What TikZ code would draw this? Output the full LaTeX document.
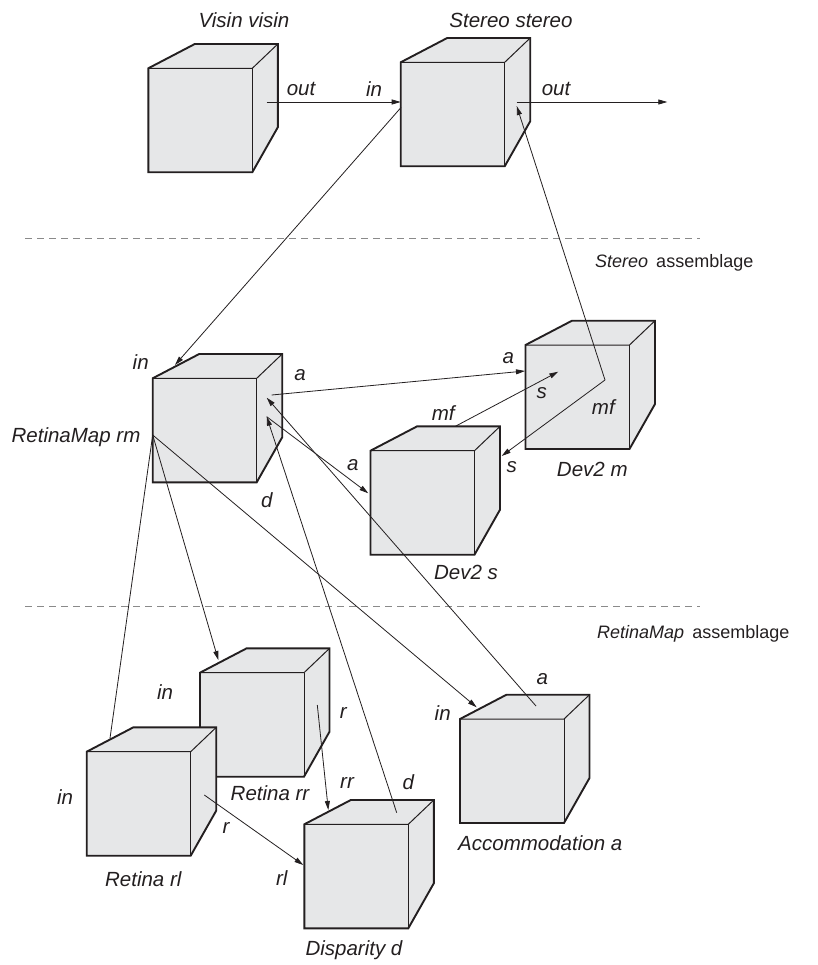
\documentclass[tikz,border=0pt]{standalone}
\usepackage{fontspec}
\setmainfont{Liberation Sans}
\usetikzlibrary{arrows.meta}
\definecolor{ink}{HTML}{231F20}
\definecolor{cubegrey}{HTML}{E6E7E8}
\definecolor{sepgrey}{HTML}{8A8A8A}
\tikzset{
  cubeface/.style={fill=cubegrey},
  cubeedge/.style={draw=ink, line width=1.9pt, line join=miter},
  cubeinner/.style={draw=ink, line width=1pt},
  wire/.style={draw=ink, line width=0.8pt},
  arr/.style={wire, -{Triangle[length=9pt,width=5pt]}},
  lbl/.style={text=ink, font=\fontsize{20.5}{24}\selectfont\itshape, inner sep=0pt},
  asm/.style={text=ink, font=\fontsize{18}{22}\selectfont, inner sep=0pt, anchor=west},
  sepline/.style={draw=sepgrey, line width=0.9pt, dash pattern=on 7pt off 5pt},
}
% A component box drawn as a shaded cube; #1 name, (#2,#3) front top-left corner
\newcommand{\cubeat}[3]{%
  \coordinate (#1) at (#2,#3);
  \fill[cubeface] (#1) -- ++(46.5,-24.3) -- ++(83,0) -- ++(0,83.3) -- ++(-25.5,45) -- ++(-104,0) -- cycle;
  \draw[cubeinner] (#1) -- ++(104,0) coordinate (#1tr) -- ++(25.5,-24.3);
  \draw[cubeinner] (#1tr) -- ++(0,104);
  \draw[cubeedge] (#1) -- ++(46.5,-24.3) -- ++(83,0) -- ++(0,83.3) -- ++(-25.5,45) -- ++(-104,0) -- cycle;
}
\begin{document}
\begin{tikzpicture}[x=1pt,y=-1pt]
\useasboundingbox (0,0) rectangle (817,965);

% assemblage separators
\coordinate (sepAa) at (25,238);  \coordinate (sepAb) at (700,238);
\coordinate (sepBa) at (25,606);  \coordinate (sepBb) at (700,606);
\draw[sepline] (sepAa) -- (sepAb);
\draw[sepline] (sepBa) -- (sepBb);

% components
\cubeat{visin}{148.3}{68.3}
\cubeat{stereo}{400.7}{62.3}
\cubeat{rm}{152.7}{378.3}
\cubeat{devm}{525.5}{345}
\cubeat{devs}{370.5}{450.7}
\cubeat{rr}{200}{672.7}
\cubeat{rl}{86.7}{751.7}
\cubeat{disp}{304.3}{824.3}
\cubeat{acc}{460}{719}

% ports
\coordinate (visinOut) at (266.7,102);
\coordinate (stereoIn) at (400.7,102);
\coordinate (stereoIn2) at (401,107.5);
\coordinate (stereoOut) at (516.7,102);
\coordinate (stereoOutTip) at (516.7,106);
\coordinate (outEnd) at (667.3,102);
\coordinate (rmIn) at (175,365);
\coordinate (rmA) at (271.7,395);
\coordinate (rmATip) at (266.7,397.7);
\coordinate (rmD) at (266.7,416.7);
\coordinate (rmInner) at (152.7,435);
\coordinate (devmA) at (525,371);
\coordinate (devmS) at (558.3,371.7);
\coordinate (devmMf) at (605,380);
\coordinate (devsA) at (368.3,493.3);
\coordinate (devsS) at (501.7,456);
\coordinate (devsMf) at (455,426.5);
\coordinate (rrIn) at (218.3,660);
\coordinate (rrR) at (317.3,705);
\coordinate (rlIn) at (110,738.3);
\coordinate (rlR) at (204.3,795);
\coordinate (dispRr) at (328.3,810);
\coordinate (dispRl) at (303.3,865);
\coordinate (dispD) at (396.7,812.7);
\coordinate (accIn) at (476.7,707.3);
\coordinate (accA) at (536,706);

% connectors
\draw[arr] (visinOut) -- (stereoIn);
\draw[arr] (stereoOut) -- (outEnd);
\draw[arr] (stereoIn2) -- (rmIn);
\draw[arr] (devmMf) -- (stereoOutTip);
\draw[arr] (devmMf) -- (devsS);
\draw[arr] (devsMf) -- (devmS);
\draw[arr] (rmA) -- (devmA);
\draw[arr] (rmD) -- (devsA);
\draw[arr] (accA) -- (rmATip);
\draw[arr] (dispD) -- (rmD);
\draw[wire] (rmInner) -- (rlIn);
\draw[arr] (rmInner) -- (rrIn);
\draw[arr] (rmInner) -- (accIn);
\draw[arr] (rrR) -- (dispRr);
\draw[arr] (rlR) -- (dispRl);

% labels
\node[lbl] (tVisin) at (244,20) {Visin visin};
\node[lbl] (tStereo) at (511,20) {Stereo stereo};
\node[lbl] (tVisinOut) at (301,89) {out};
\node[lbl] (tStereoIn) at (374,89) {in};
\node[lbl] (tStereoOut) at (556,89) {out};
\node[asm] (tAsmStereo) at (595,263) {\textit{Stereo}\, assemblage};
\node[lbl] (tRmIn) at (140.7,361.7) {in};
\node[lbl] (tRmA) at (300,375) {a};
\node[lbl] (tRm) at (76,436.7) {RetinaMap rm};
\node[lbl] (tRmD) at (266.7,500) {d};
\node[lbl] (tDevmA) at (508.3,358.3) {a};
\node[lbl] (tDevmS) at (541.7,393.3) {s};
\node[lbl] (tDevmMf) at (603.3,407.3) {mf};
\node[lbl] (tDevm) at (592.3,469.3) {Dev2 m};
\node[lbl] (tDevsMf) at (443.3,413.3) {mf};
\node[lbl] (tDevsA) at (352.7,465) {a};
\node[lbl] (tDevsS) at (511.7,466.7) {s};
\node[lbl] (tDevs) at (466,572) {Dev2 s};
\node[asm] (tAsmRm) at (597,634) {\textit{RetinaMap}\, assemblage};
\node[lbl] (tRrIn) at (165,691.7) {in};
\node[lbl] (tRrR) at (343.3,713.3) {r};
\node[lbl] (tRr) at (270,793.3) {Retina rr};
\node[lbl] (tRlIn) at (65,796.7) {in};
\node[lbl] (tRlR) at (226,828) {r};
\node[lbl] (tRl) at (143.3,879.3) {Retina rl};
\node[lbl] (tDispRr) at (347,783.3) {rr};
\node[lbl] (tDispD) at (408.3,781.7) {d};
\node[lbl] (tDispRl) at (281.7,878.3) {rl};
\node[lbl] (tDisp) at (354,950) {Disparity d};
\node[lbl] (tAccIn) at (442.7,712.7) {in};
\node[lbl] (tAccA) at (542.3,679.3) {a};
\node[lbl, anchor=west] (tAcc) at (458,843) {Accommodation a};
\end{tikzpicture}
\end{document}
